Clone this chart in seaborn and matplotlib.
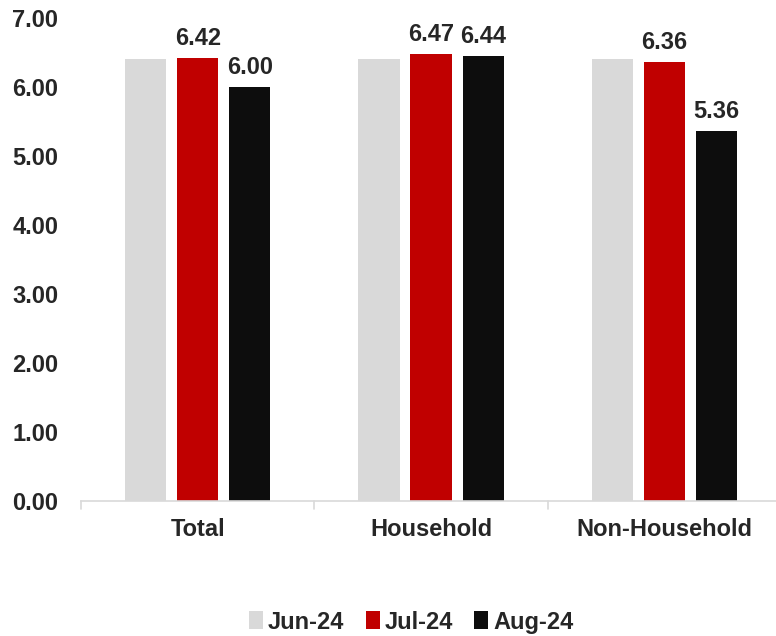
import matplotlib
matplotlib.use("Agg")
import matplotlib.pyplot as plt
import seaborn as sns
import pandas as pd
from matplotlib.patches import Patch

categories = ["Total", "Household", "Non-Household"]
months = ["Jun-24", "Jul-24", "Aug-24"]
jun_values = [6.41, 6.41, 6.40]
jul_values = [6.42, 6.47, 6.36]
aug_values = [6.00, 6.44, 5.36]
colors = ["#d9d9d9", "#c00000", "#0d0d0d"]

df = pd.DataFrame({
    "category": categories * 3,
    "month": [months[0]] * 3 + [months[1]] * 3 + [months[2]] * 3,
    "value": jun_values + jul_values + aug_values,
})

sns.set_style("white")
plt.rcParams["font.family"] = ["Liberation Sans", "DejaVu Sans"]
plt.rcParams["font.weight"] = "bold"

FS = 17

fig = plt.figure(figsize=(7.76, 6.36), dpi=100)
ax = fig.add_axes([0.1045, 0.212, 0.902, 0.76])

sns.barplot(data=df, x="category", y="value", hue="month", order=categories,
            hue_order=months, palette=colors, width=0.67, gap=0.21,
            saturation=1, ax=ax, legend=False, edgecolor="none")

for i, cont in enumerate(ax.containers):
    if i == 0:
        continue
    ax.bar_label(cont, fmt="%.2f", padding=6, fontsize=FS, fontweight="bold")

ax.set_ylim(0, 7)
ax.set_xlim(-0.5, 2.5)
ax.set_yticks([0, 1, 2, 3, 4, 5, 6, 7])
ax.set_yticklabels([f"{v:.2f}" for v in range(8)], fontsize=FS, fontweight="bold")
ax.set_xticks([0, 1, 2])
ax.set_xticklabels(categories, fontsize=FS, fontweight="bold")
ax.tick_params(axis="x", length=0, pad=12)
ax.tick_params(axis="y", length=0, pad=16.5)
ax.set_xlabel("")
ax.set_ylabel("")

for side in ["top", "right", "left"]:
    ax.spines[side].set_visible(False)
ax.spines["bottom"].set_color("#d9d9d9")
ax.spines["bottom"].set_linewidth(1.2)

# category separators below the axis line
for xb in [-0.5, 0.5, 1.5]:
    ax.plot([xb, xb], [0, -0.12], color="#d9d9d9", lw=1.2, clip_on=False)

handles = [Patch(facecolor=c, edgecolor="none") for c in colors]
fig.legend(handles, months, loc="center", bbox_to_anchor=(0.53, 0.022),
           ncol=3, frameon=False, handlelength=0.6, handleheight=0.8,
           handletextpad=0.2, columnspacing=0.9,
           prop={"size": FS, "weight": "bold"})

fig.savefig("out.png", dpi=100)
